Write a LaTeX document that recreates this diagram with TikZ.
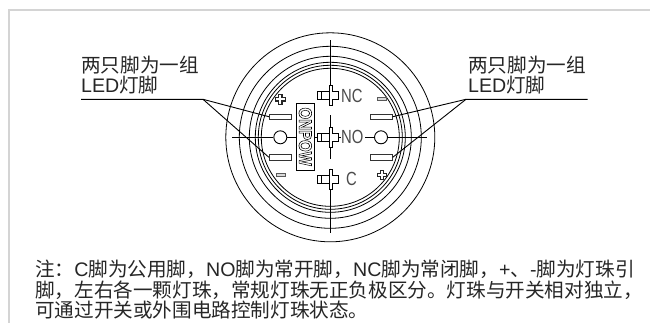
\documentclass[tikz,border=0pt]{standalone}
\usepackage{fontspec}
\usepackage{graphicx}
\setmainfont{Liberation Sans}
\newfontfamily\cjk{Noto Sans CJK SC}
\newcommand{\cj}[1]{{\cjk #1}}
\tikzset{
  every picture/.style={x=1pt,y=-1pt},
  line/.style={draw=black,line width=0.8pt},
  frameline/.style={draw=black!17,line width=1.6pt},
  leader/.style={draw=black,line width=0.9pt},
  label/.style={anchor=base west,inner sep=0pt,text=black!85,font=\fontsize{19.6}{21}\selectfont},
  pinrect/.style={draw=black!80,line width=0.9pt,fill=white,minimum width=22pt,minimum height=5.3pt,inner sep=0pt},
  hole/.style={circle,draw=black,line width=0.9pt,minimum size=13pt,inner sep=0pt},
  swlabel/.style={inner sep=0pt,text=black!70,font=\fontsize{19}{18}\selectfont,xscale=.78},
  brand/.style={draw=black,line width=0.9pt,fill=white,minimum width=18.7pt,minimum height=66.7pt,inner sep=0pt},
}
\newcommand{\swpin}[2]{%
  \draw[line,fill=white] (317.3,#2-4) rectangle (329,#2+4);
  \draw[line] (321.7,#2-4) -- (321.7,#2+4);
  \draw[line,fill=white] (329,#2-10) -- (332,#2-10) -- (332,#2-4) -- (338.3,#2-4) -- (338.3,#2+4) -- (332,#2+4) -- (332,#2+10) -- (329,#2+10) -- cycle;
}
\newcommand{\plusmark}[2]{%
  \draw[draw=black!85,line width=1.1pt,fill=white] (#1-1.7,#2-4.8) -- (#1+1.7,#2-4.8) -- (#1+1.7,#2-1.7) -- (#1+4.8,#2-1.7) -- (#1+4.8,#2+1.7) -- (#1+1.7,#2+1.7) -- (#1+1.7,#2+4.8) -- (#1-1.7,#2+4.8) -- (#1-1.7,#2+1.7) -- (#1-4.8,#2+1.7) -- (#1-4.8,#2-1.7) -- (#1-1.7,#2-1.7) -- cycle;
}
\newcommand{\minusmark}[2]{%
  \draw[draw=black!65,line width=1.1pt,fill=black!15] (#1-4.6,#2-1.4) rectangle (#1+4.6,#2+1.4);
}
\begin{document}
\begin{tikzpicture}
\useasboundingbox (0,0) rectangle (650,324);
\fill[white] (0,0) rectangle (650,324);
% frame
\draw[frameline] (650,10) -- (9,10) -- (9,323);
% rings
\foreach \r in {104.5,91,81,75,72,69} \draw[line] (330.3,137.3) circle[radius=\r];
% axes
\coordinate (axT) at (330.3,40);
\coordinate (axTe) at (330.3,105);
\coordinate (axMt) at (330.3,115);
\coordinate (axMb) at (330.3,158.5);
\coordinate (axBt) at (330.3,168.5);
\coordinate (axB) at (330.3,233);
\coordinate (axL) at (232,137.3);
\coordinate (axR) at (427,137.3);
\draw[line] (axT) -- (axTe);
\draw[line] (axMt) -- (axMb);
\draw[line] (axBt) -- (axB);
% LED pins and holes
\node[pinrect] (ul) at (280.3,116.7) {};
\node[pinrect] (ll) at (280.3,157.3) {};
\node[pinrect] (ur) at (381.3,116.7) {};
\node[pinrect] (lr) at (381.3,157.3) {};
\node[hole] (hl) at (280.3,137.3) {};
\node[hole] (hr) at (381,137.3) {};
% brand plate
\node[brand] (plate) at (305.3,136.7) {};
\node[rotate=-90,inner sep=0pt,font=\fontsize{15}{15}\selectfont\bfseries,text=black] (brandtxt) at (305.3,136.7) {\scalebox{1}[1.2]{\special{pdf:code q 1 Tr 0.5 w}ONPOW\special{pdf:code Q}}};
\draw[line] (axL) -- (hl.west);
\draw[line] (hl.east) -- (plate.west |- hl.east);
\draw[line] (plate.east |- hl.east) -- (341,137.3);
\draw[line] (365,137.3) -- (hr.west);
\draw[line] (hr.east) -- (axR);
% switch pins
\swpin{NC}{95.7}
\swpin{NO}{137.3}
\swpin{C}{179.3}
\node[swlabel,anchor=base west] (nc) at (341,102.2) {NC};
\node[swlabel,anchor=base west] (no) at (341,143.8) {NO};
\node[swlabel,anchor=base west] (c) at (346,185.8) {C};
% marks
\plusmark{280.3}{99.3}
\minusmark{381.7}{98.7}
\minusmark{281}{174.7}
\plusmark{382}{175}
% labels
\node[label] (tl1) at (81,72.5) {\cj{两只脚为一组}};
\node[label] (tl2) at (81,92.5) {LED\cj{灯脚}};
\node[label] (tr1) at (468,72.5) {\cj{两只脚为一组}};
\node[label] (tr2) at (468,92.5) {LED\cj{灯脚}};
% leaders
\coordinate (la) at (81,99.3);
\coordinate (lb) at (203,99.3);
\coordinate (ra) at (587.7,99.3);
\coordinate (rb) at (466,99.3);
\draw[leader] (la) -- (lb) -- (ul.west);
\draw[leader] (lb) -- (ll.west);
\draw[leader] (ra) -- (rb) -- (ur.east);
\draw[leader] (rb) -- (lr.east);
% note
\node[label] (n1) at (35,276) {\cj{注：}C\cj{脚为公用脚，}NO\cj{脚为常开脚，}NC\cj{脚为常闭脚，}+\cj{、}-\cj{脚为灯珠引}};
\node[label] (n2) at (35,297.5) {\cj{脚，左右各一颗灯珠，常规灯珠无正负极区分。灯珠与开关相对独立，}};
\node[label] (n3) at (35,317.5) {\cj{可通过开关或外围电路控制灯珠状态。}};
\end{tikzpicture}
\end{document}
